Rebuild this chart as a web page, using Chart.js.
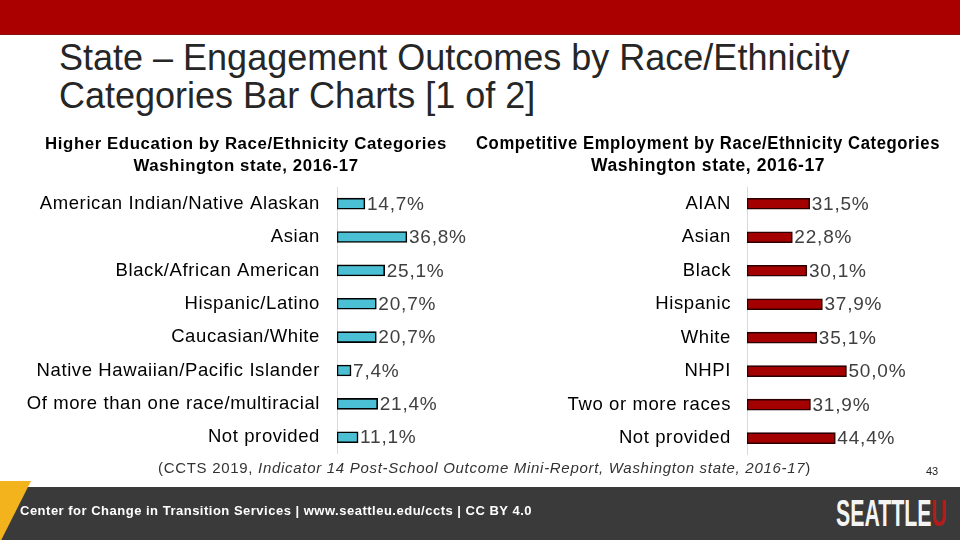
<!DOCTYPE html>
<html><head><meta charset="utf-8">
<script src="https://cdn.jsdelivr.net/npm/chart.js@4/dist/chart.umd.min.js"></script>
<style>
html,body{margin:0;padding:0;}
body{width:960px;height:540px;position:relative;overflow:hidden;background:#fff;font-family:"Liberation Sans",Arial,sans-serif;}
#topbar{position:absolute;left:0;top:0;width:960px;height:34px;background:#aa0000;border-bottom:1px solid #8a1010;}
#title{position:absolute;left:59px;top:39px;font-size:36px;line-height:38px;color:#262626;white-space:nowrap;}
.cv{position:absolute;}
#cite{position:absolute;left:158px;top:459px;font-size:15px;letter-spacing:0.7px;color:#333;white-space:nowrap;}
#pnum{position:absolute;left:926px;top:465px;font-size:11px;color:#222;}
#footer{position:absolute;left:0;top:487px;width:960px;height:53px;background:#3a3a3a;}
#tri{position:absolute;left:0;top:481px;width:31px;height:59px;background:#f2b31c;clip-path:polygon(0 0,100% 0,4% 100%,0 100%);}
#ftext{position:absolute;left:20px;top:503px;font-size:13px;letter-spacing:0.5px;font-weight:bold;color:#fff;white-space:nowrap;}
#logo{position:absolute;left:836px;top:494px;font-family:"Liberation Sans",Arial,sans-serif;font-weight:bold;font-size:37px;line-height:40px;color:#f4f4f4;white-space:nowrap;transform:scaleX(0.575);transform-origin:0 0;}
#logo span{color:#b01c1c;}
</style></head>
<body>
<div id="topbar"></div>
<div id="title">State – Engagement Outcomes by Race/Ethnicity<br>Categories Bar Charts [1 of 2]</div>
<canvas id="c1" class="cv" style="left:0px;top:128px;width:492px;height:354px" width="492" height="354"></canvas>
<canvas id="c2" class="cv" style="left:476px;top:128px;width:464px;height:354px" width="464" height="354"></canvas>
<div id="cite">(CCTS 2019, <i>Indicator 14 Post-School Outcome Mini-Report, Washington state, 2016-17</i>)</div>
<div id="pnum">43</div>
<div id="footer"></div>
<div id="tri"></div>
<div id="ftext">Center for Change in Transition Services | www.seattleu.edu/ccts | CC BY 4.0</div>
<div id="logo">SEATTLE<span>U</span></div>
<script>
const higherEdCategories = ["American Indian/Native Alaskan","Asian","Black/African American","Hispanic/Latino","Caucasian/White","Native Hawaiian/Pacific Islander","Of more than one race/multiracial","Not provided"];
const higherEdValues = [14.7,36.8,25.1,20.7,20.7,7.4,21.4,11.1];
const employmentCategories = ["AIAN","Asian","Black","Hispanic","White","NHPI","Two or more races","Not provided"];
const employmentValues = [31.5,22.8,30.1,37.9,35.1,50.0,31.9,44.4];
const higherEdTitle = ["Higher Education by Race/Ethnicity Categories","Washington state, 2016-17"];
const employmentTitle = ["Competitive Employment by Race/Ethnicity Categories","Washington state, 2016-17"];

const FONT = '"Liberation Sans", Arial, sans-serif';

const spacing = {
  id:'spacing',
  beforeDraw(chart){ chart.ctx.letterSpacing = '0.6px'; }
};

const valueLabels = {
  id:'valueLabels',
  afterDatasetsDraw(chart){
    const ctx = chart.ctx;
    const meta = chart.getDatasetMeta(0);
    const data = chart.data.datasets[0].data;
    ctx.save();
    ctx.font = '19px ' + FONT;
    ctx.letterSpacing = '0.8px';
    ctx.fillStyle = '#404040';
    ctx.textAlign = 'left';
    ctx.textBaseline = 'middle';
    meta.data.forEach((bar,i)=>{
      ctx.fillText(data[i].toFixed(1).replace('.',',') + '%', bar.x + 2, bar.y + 1);
    });
    ctx.restore();
  }
};

function makeChart(id, labels, values, title, fill, border, axisWidth, tickPad, xmax, titleSize){
  return new Chart(document.getElementById(id), {
    type:'bar',
    data:{labels:labels, datasets:[{data:values, backgroundColor:fill, borderColor:border, borderWidth:1.6, borderSkipped:false, barThickness:11}]},
    options:{
      indexAxis:'y', responsive:false, animation:false, devicePixelRatio:1,
      layout:{padding:0},
      plugins:{legend:{display:false}, tooltip:{enabled:false},
        title:{display:true, text:title, color:'#000', font:{family:FONT, size:titleSize, weight:'bold', lineHeight:'22px'}, padding:{top:5,bottom:10}}},
      scales:{
        x:{display:false, min:0, max:xmax},
        y:{
          afterFit(scale){ scale.width = axisWidth; },
          grid:{display:false, drawTicks:false},
          border:{display:true, color:'#d9d9d9', width:1},
          ticks:{color:'#000', padding:tickPad, font:{family:FONT, size:18.5}}
        }
      }
    },
    plugins:[spacing, valueLabels]
  });
}
makeChart('c1', higherEdCategories, higherEdValues, higherEdTitle, '#4bbfd3', '#000', 337, 17, 81.6, 16.8);
makeChart('c2', employmentCategories, employmentValues, employmentTitle, '#a50000', '#2a0000', 271, 16, 97, 17.5);
</script>
</body></html>
